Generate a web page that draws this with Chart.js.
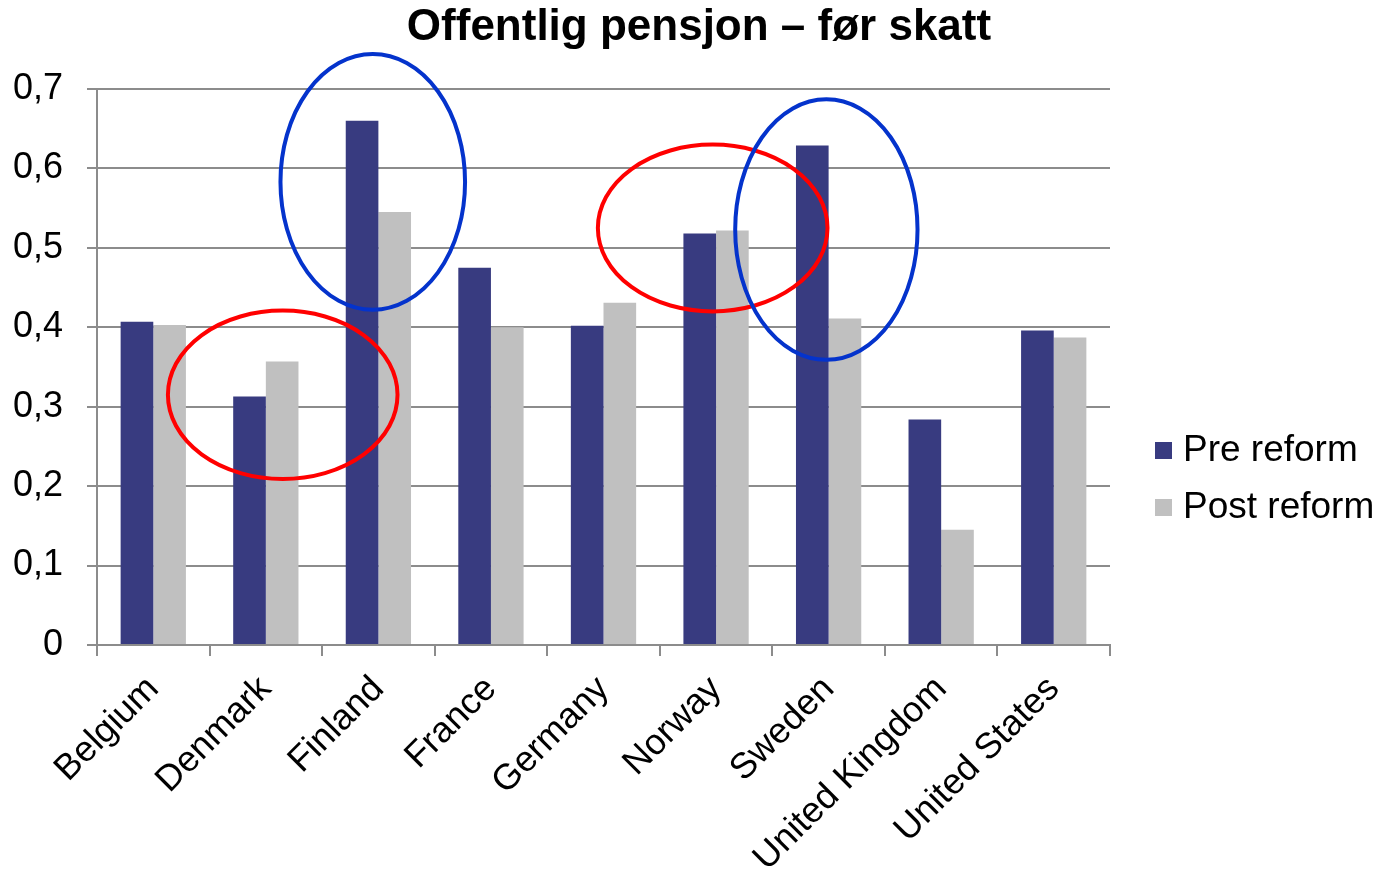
<!DOCTYPE html>
<html>
<head>
<meta charset="utf-8">
<script src="https://cdn.jsdelivr.net/npm/chart.js@4"></script>
<style>
html,body{margin:0;padding:0;background:#fff;}
#wrap{width:1383px;height:875px;}
</style>
</head>
<body>
<div id="wrap"><canvas id="c" width="1383" height="875"></canvas></div>
<script>
const chartTitle = 'Offentlig pensjon – før skatt';
const categories = ['Belgium','Denmark','Finland','France','Germany','Norway','Sweden','United Kingdom','United States'];
const preReform  = [0.407, 0.313, 0.660, 0.475, 0.402, 0.518, 0.629, 0.284, 0.396];
const postReform = [0.403, 0.357, 0.545, 0.400, 0.431, 0.522, 0.411, 0.145, 0.387];
const seriesNames = ['Pre reform','Post reform'];
const yTickLabels = ['0','0,1','0,2','0,3','0,4','0,5','0,6','0,7'];
// highlight ellipses: [category index centre, value centre, half-width in categories, half-height in value units, colour]
const ellipseCx = [1.15, 1.95, 4.97, 5.98];
const ellipseCy = [0.315, 0.583, 0.525, 0.523];
const ellipseRx = [1.02, 0.82, 1.02, 0.81];
const ellipseRy = [0.106, 0.161, 0.105, 0.164];
const ellipseColor = ['#ff0000', '#0433cc', '#ff0000', '#0433cc'];

const FONT = "'Liberation Sans', Arial, sans-serif";
const GRID = '#8c8c8c';

const ellipsePlugin = {
  id: 'ellipses',
  afterDatasetsDraw(chart) {
    const {ctx, scales:{x, y}} = chart;
    const catW = x.getPixelForValue(1) - x.getPixelForValue(0);
    ctx.save();
    for (let i = 0; i < ellipseCx.length; i++) {
      const cx = x.getPixelForValue(0) + ellipseCx[i] * catW;
      const cy = y.getPixelForValue(ellipseCy[i]);
      const rx = ellipseRx[i] * catW;
      const ry = Math.abs(y.getPixelForValue(ellipseRy[i]) - y.getPixelForValue(0));
      ctx.beginPath();
      ctx.ellipse(cx, cy, rx, ry, 0, 0, Math.PI * 2);
      ctx.lineWidth = 4;
      ctx.strokeStyle = ellipseColor[i];
      ctx.stroke();
    }
    ctx.restore();
  }
};

const textPlugin = {
  id: 'titleAndLegend',
  afterDraw(chart) {
    const {ctx, chartArea} = chart;
    ctx.save();
    // title
    ctx.font = 'bold 44px ' + FONT;
    ctx.fillStyle = '#000';
    ctx.textAlign = 'center';
    ctx.textBaseline = 'middle';
    ctx.fillText(chartTitle, 699, 28);
    // legend
    ctx.font = '37px ' + FONT;
    ctx.textAlign = 'left';
    const x0 = chartArea.right + 45;
    const ys = [450, 507];
    chart.data.datasets.forEach((ds, i) => {
      ctx.fillStyle = ds.backgroundColor;
      ctx.fillRect(x0, ys[i] - 8, 17, 17);
      ctx.fillStyle = '#000';
      ctx.fillText(ds.label, x0 + 28, ys[i] + 1);
    });
    ctx.restore();
  }
};

new Chart(document.getElementById('c'), {
  type: 'bar',
  data: {
    labels: categories,
    datasets: [
      {label: seriesNames[0], data: preReform, backgroundColor: '#383b80', categoryPercentage: 0.58, barPercentage: 1.0},
      {label: seriesNames[1], data: postReform, backgroundColor: '#c0c0c0', categoryPercentage: 0.58, barPercentage: 1.0}
    ]
  },
  plugins: [ellipsePlugin, textPlugin],
  options: {
    responsive: false,
    animation: false,
    devicePixelRatio: 1,
    layout: {padding: {left: 0, right: 273, top: 89, bottom: 0}},
    plugins: {
      legend: {display: false},
      tooltip: {enabled: false},
      title: {display: false}
    },
    scales: {
      x: {
        grid: {offset: true, drawOnChartArea: false, drawTicks: true, tickLength: 11, color: GRID, lineWidth: 2},
        border: {color: GRID, width: 2},
        ticks: {color: '#000', font: {family: FONT, size: 36}, maxRotation: 45, minRotation: 45, autoSkip: false, padding: 12},
        afterFit(s) { s.height = 230; }
      },
      y: {
        min: 0, max: 0.7,
        grid: {color: GRID, lineWidth: 2, tickLength: 10},
        border: {color: GRID, width: 2},
        ticks: {
          stepSize: 0.1, color: '#000', font: {family: FONT, size: 36}, padding: 24,
          callback: (v, i) => yTickLabels[i]
        },
        afterFit(s) { s.width = 97; }
      }
    }
  }
});
</script>
</body>
</html>
